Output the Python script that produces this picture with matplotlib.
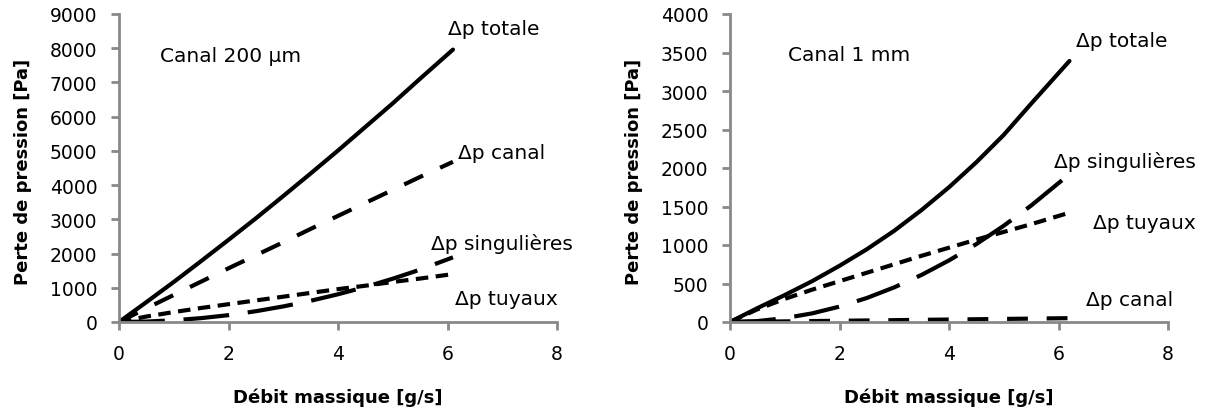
import numpy as np
import matplotlib.pyplot as plt

plt.switch_backend('agg')
plt.rcParams['font.family'] = ['DejaVu Sans']

# Canal 200 um (gauche)
x_200 = [0, 0.5, 1, 1.5, 2, 2.5, 3, 3.5, 4, 4.5, 5, 5.5, 6.1]
totale_200 = [0, 580, 1170, 1780, 2400, 3030, 3680, 4340, 5010, 5700, 6390, 7110, 7960]
canal_200 = [0, 400, 790, 1180, 1570, 1950, 2330, 2720, 3100, 3480, 3860, 4240, 4680]
sing_200 = [0, 13, 50, 113, 200, 315, 455, 620, 810, 1025, 1265, 1530, 1890]
tuyaux_200 = [0, 160, 290, 410, 520, 630, 740, 850, 960, 1060, 1170, 1270, 1400]

# Canal 1 mm (droite)
x_1mm = [0, 0.5, 1, 1.5, 2, 2.5, 3, 3.5, 4, 4.5, 5, 5.5, 6.2]
totale_1mm = [0, 180, 350, 530, 730, 945, 1185, 1455, 1750, 2075, 2430, 2835, 3390]
canal_1mm = [0, 4, 8, 12, 16, 20, 24, 28, 32, 36, 40, 44, 50]
sing_1mm = [0, 12, 50, 112, 200, 312, 450, 612, 800, 1012, 1250, 1512, 1920]
tuyaux_1mm = [0, 165, 300, 420, 530, 640, 750, 860, 965, 1070, 1170, 1270, 1420]

gris = '#898989'
lw = 3.0
fs_tick = 13.5
fs_txt = 14.5
fs_lab = 13

fig = plt.figure(figsize=(12.07, 4.14), dpi=100)
ax1 = fig.add_axes([119 / 1207, 91 / 414, 438 / 1207, 308 / 414])
ax2 = fig.add_axes([730 / 1207, 91 / 414, 438 / 1207, 308 / 414])


def style_axe(ax, ymax, ystep):
    ax.set_xlim(0, 8)
    ax.set_ylim(0, ymax)
    ax.set_xticks(np.arange(0, 9, 2))
    ax.set_yticks(np.arange(0, ymax + 1, ystep))
    for s in ['top', 'right']:
        ax.spines[s].set_visible(False)
    for s in ['left', 'bottom']:
        ax.spines[s].set_color(gris)
        ax.spines[s].set_linewidth(2.0)
    ax.tick_params(axis='both', direction='out', length=5.5, width=2.0,
                   color=gris, labelsize=fs_tick, labelcolor='black')
    ax.tick_params(axis='x', pad=10)
    ax.tick_params(axis='y', pad=10)
    ax.set_xlabel('Débit massique [g/s]', fontsize=fs_lab, fontweight='bold')
    ax.set_ylabel('Perte de pression [Pa]', fontsize=fs_lab, fontweight='bold')
    ax.xaxis.set_label_coords(0.5, -0.212)
    ax.yaxis.set_label_coords(-0.199, 0.49)


def courbes(ax, x, tot, can, sing, tuy):
    ax.plot(x, tot, color='black', lw=lw, solid_capstyle='round')
    ax.plot(x, can, color='black', lw=lw, dashes=(5, 4.5))
    ax.plot(x, sing, color='black', lw=lw, dashes=(11, 4.5))
    ax.plot(x, tuy, color='black', lw=lw, dashes=(3, 1.8))


courbes(ax1, x_200, totale_200, canal_200, sing_200, tuyaux_200)
style_axe(ax1, 9000, 1000)
ax1.text(0.75, 7800, 'Canal 200 µm', fontsize=fs_txt, va='center', ha='left')
ax1.text(6.85, 8590, 'Δp totale', fontsize=fs_txt, va='center', ha='center', clip_on=False)
ax1.text(6.99, 4940, 'Δp canal', fontsize=fs_txt, va='center', ha='center', clip_on=False)
ax1.text(7.0, 2310, 'Δp singulières', fontsize=fs_txt, va='center', ha='center', clip_on=False)
ax1.text(7.07, 700, 'Δp tuyaux', fontsize=fs_txt, va='center', ha='center', clip_on=False)

courbes(ax2, x_1mm, totale_1mm, canal_1mm, sing_1mm, tuyaux_1mm)
style_axe(ax2, 4000, 500)
ax2.text(1.06, 3480, 'Canal 1 mm', fontsize=fs_txt, va='center', ha='left')
ax2.text(7.15, 3650, 'Δp totale', fontsize=fs_txt, va='center', ha='center', clip_on=False)
ax2.text(7.21, 2090, 'Δp singulières', fontsize=fs_txt, va='center', ha='center', clip_on=False)
ax2.text(7.56, 1286, 'Δp tuyaux', fontsize=fs_txt, va='center', ha='center', clip_on=False)
ax2.text(7.30, 286, 'Δp canal', fontsize=fs_txt, va='center', ha='center', clip_on=False)

plt.savefig('out.png', dpi=100)
